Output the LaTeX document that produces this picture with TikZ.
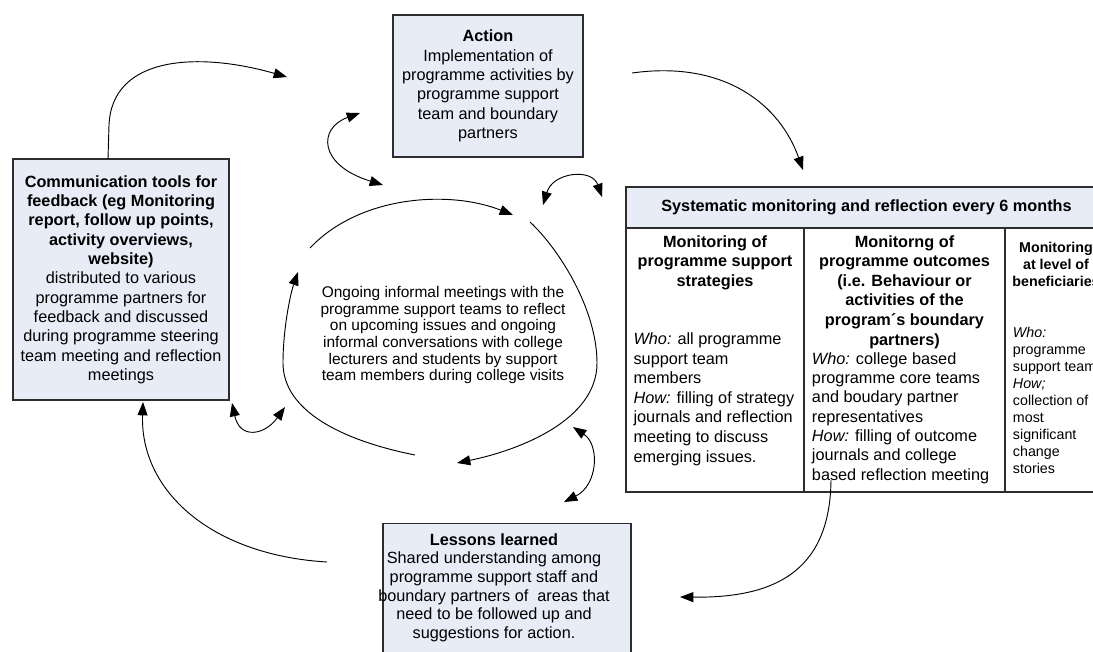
\documentclass[tikz,border=0pt]{standalone}
\usepackage{fontspec}
\setmainfont{Liberation Sans}
\usetikzlibrary{arrows.meta}
\definecolor{boxfill}{RGB}{231,236,247}
\definecolor{boxline}{RGB}{45,45,45}
\begin{document}
\begin{tikzpicture}[x=0.75pt,y=-0.75pt,
  box/.style={draw=boxline, line width=0.8pt, fill=boxfill, inner sep=0pt},
  cell/.style={draw=boxline, line width=0.8pt, fill=white, inner sep=0pt},
  big/.style={inner sep=0pt, font=\fontsize{12.2}{14.5}\selectfont},
  bigb/.style={inner sep=0pt, font=\fontsize{12.2}{14.7}\selectfont\bfseries},
  small/.style={inner sep=0pt, font=\fontsize{10.7}{12.75}\selectfont},
  smallb/.style={inner sep=0pt, font=\fontsize{10.7}{12.75}\selectfont\bfseries},
  tipa/.tip={Triangle[length=10pt,width=7.5pt]},
  conn/.style={line width=0.7pt, -tipa},
  dconn/.style={line width=0.7pt, tipa-tipa}]
\useasboundingbox (0,0) rectangle (1093,651);
\clip (0,0) rectangle (1093,651);

% boxes
\node[box, big, minimum width=142.5pt, minimum height=106.5pt, align=center] (action) at (488,86)
  {\textbf{Action}\\Implementation of\\programme activities by\\programme support\\team and boundary\\partners};

\node[box, big, minimum width=162pt, minimum height=180.75pt, align=center] (comm) at (121,279.5)
  {\textbf{Communication tools for}\\\textbf{feedback (eg Monitoring}\\\textbf{report, follow up points,}\\\textbf{activity overviews,}\\\textbf{website)}\\distributed to various\\programme partners for\\feedback and discussed\\during programme steering\\team meeting and reflection\\meetings};

\node[box, minimum width=186pt, minimum height=105pt, anchor=north] (lessons) at (507,523) {};
\node[inner sep=0pt, font=\fontsize{12.2}{14}\selectfont, align=center, anchor=north] (lessonstxt) at (494,533)
  {\textbf{Lessons learned}\\Shared understanding among\\programme support staff and\\boundary partners of~ areas that\\need to be followed up and\\suggestions for action.};

% table
\node[box, bigb, minimum width=360.75pt, minimum height=30.75pt] (hdr) at (866.5,207.5)
  {Systematic monitoring and reflection every 6 months};
\node[cell, minimum width=133.5pt, minimum height=198pt] (c1) at (715,360) {};
\node[cell, minimum width=150.75pt, minimum height=198pt] (c2) at (904.5,360) {};
\node[cell, minimum width=76.5pt, minimum height=198pt] (c3) at (1056,360) {};

\node[bigb, align=center, anchor=north] (c1h) at (715,235)
  {Monitoring of\\programme support\\strategies};
\node[big, align=left, anchor=north west, font=\fontsize{12.2}{14.7}\selectfont] (c1b) at (633.3,332.5)
  {\textit{Who:} all programme\\support team\\members\\\textit{How:} filling of strategy\\journals and reflection\\meeting to discuss\\emerging issues.};

\node[bigb, align=center, anchor=north] (c2h) at (904.5,235)
  {Monitorng of\\programme outcomes\\(i.e. Behaviour or\\activities of the\\program´s boundary\\partners)};
\node[big, align=left, anchor=north west] (c2b) at (811.7,352.2)
  {\textit{Who:} college based\\programme core teams\\and boudary partner\\representatives\\\textit{How:} filling of outcome\\journals and college\\based reflection meeting};

\node[smallb, align=center, anchor=north] (c3h) at (1056,242.3)
  {Monitoring\\at level of\\beneficiaries};
\node[small, align=left, anchor=north west] (c3b) at (1012.7,327.3)
  {\textit{Who:}\\programme\\support team\\\textit{How;}\\collection of\\most\\significant\\change\\stories};

% central text
\node[inner sep=0pt, font=\fontsize{11.6}{12.5}\selectfont, align=center] (ring) at (443,335)
  {Ongoing informal meetings with the\\programme support teams to reflect\\on upcoming issues and ongoing\\informal conversations with college\\lecturers and students by support\\team members during college visits};

% connector end points
\coordinate (p1a) at (108,159);
\coordinate (p1b) at (109,125);
\coordinate (p1e) at (287,77);
\coordinate (p2a) at (360,113);
\coordinate (p2b) at (383,185);
\coordinate (p3a) at (632,73);
\coordinate (p3b) at (803,170);
\coordinate (p4a) at (543,205);
\coordinate (p4b) at (602,197);
\coordinate (p5a) at (573,427);
\coordinate (p5b) at (564,502);
\coordinate (p6a) at (831,480);
\coordinate (p6b) at (680,597);
\coordinate (p7a) at (327,562);
\coordinate (p7b) at (143,402);
\coordinate (p8a) at (232,403);
\coordinate (p8b) at (285,407);
\coordinate (cAa) at (310,248);
\coordinate (cAb) at (513,215);
\coordinate (cBa) at (530,222);
\coordinate (cBm) at (597,363);
\coordinate (cBb) at (457,463);
\coordinate (cCa) at (415,455);
\coordinate (cCm) at (283,363);
\coordinate (cCb) at (298,272);

% connectors
\draw[conn] (p1a) -- (p1b) .. controls (112,55) and (200,52) .. (p1e);
\draw[dconn] (p2a) .. controls (318,128) and (318,165) .. (p2b);
\draw[conn] (p3a) .. controls (725,60) and (780,105) .. (p3b);
\draw[dconn] (p4a) .. controls (553,172) and (592,168) .. (p4b);
\draw[dconn] (p5a) .. controls (600,445) and (598,485) .. (p5b);
\draw[conn] (p6a) .. controls (830,575) and (770,598) .. (p6b);
\draw[conn] (p7a) .. controls (210,555) and (140,490) .. (p7b);
\draw[dconn] (p8a) .. controls (240,440) and (265,435) .. (p8b);

% cycle
\draw[conn] (cAa) .. controls (360,195) and (450,190) .. (cAb);
\draw[conn] (cBa) .. controls (560,250) and (597,310) .. (cBm) .. controls (597,420) and (520,450) .. (cBb);
\draw[conn] (cCa) .. controls (340,440) and (283,410) .. (cCm) .. controls (283,330) and (290,295) .. (cCb);
\end{tikzpicture}
\end{document}
